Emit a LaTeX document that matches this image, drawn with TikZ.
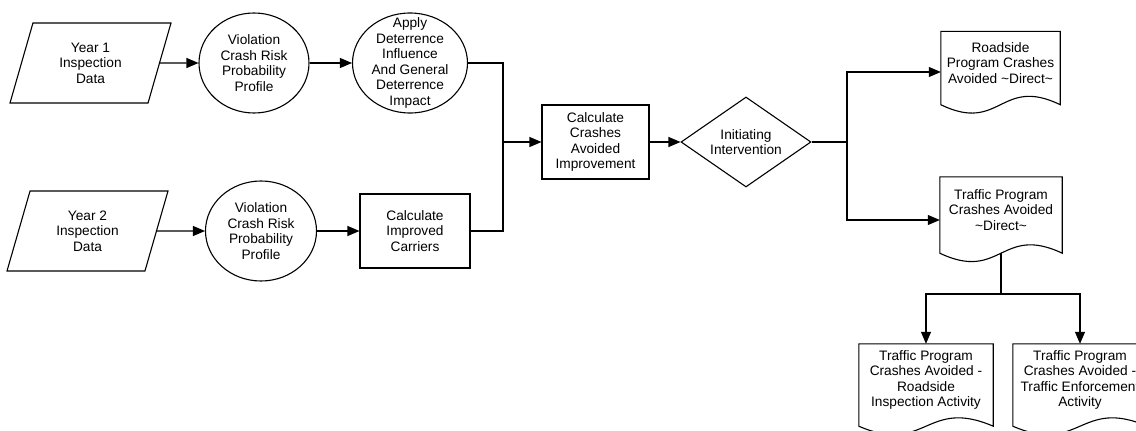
\documentclass[tikz,border=0pt]{standalone}
\usepackage{fontspec}
\setmainfont{Liberation Sans}
\usetikzlibrary{shapes.geometric,arrows.meta,calc}
\begin{document}
\begin{tikzpicture}[x=1pt,y=-1pt,
  every node/.style={font=\fontsize{13.7}{15.6}\selectfont},
  ln/.style={line width=1.1pt},
  arr/.style={ln,-{Triangle[length=12pt,width=10pt]}},
  txt/.style={align=center,inner sep=0pt},
  para/.style={ln,draw,trapezium,trapezium left angle=60.6,trapezium right angle=119.4,
    trapezium stretches body,minimum width=161pt,minimum height=80pt,txt},
  oval/.style n args={2}{ln,draw,ellipse,inner sep=0pt,minimum width=#1,minimum height=#2},
  stepbox/.style n args={2}{ln,draw,rectangle,txt,minimum width=#1,minimum height=#2},
  decision/.style={ln,draw,diamond,txt,aspect=1.44,minimum width=130pt,minimum height=90pt},
  docbox/.style n args={2}{inner sep=0pt,minimum width=#1,minimum height=#2}
]
\useasboundingbox (0,0) rectangle (1136,431);
\clip (0,0) rectangle (1136,431);

% document symbol: straight top and sides, wavy bottom edge
\newcommand\docoutline[1]{%
  \draw[ln] (#1.north west) -- (#1.north east) -- (#1.south east)
    .. controls ($(#1.south)+(0,-29)$) and ($(#1.south)+(0,29)$) .. (#1.south west) -- cycle;}

% upper row
\node[para] (y1) at (90.5,63) {Year 1\\Inspection\\Data};
\node[oval={110pt}{100pt},label={[txt]center:Violation\\Crash Risk\\Probability\\Profile}] (v1) at (254,63) {};
\node[oval={115pt}{100pt},label={[txt]center:Apply\\Deterrence\\Influence\\And General\\Deterrence\\Impact}] (apply) at (410,63) {};

% lower row
\node[para] (y2) at (87.5,231) {Year 2\\Inspection\\Data};
\node[oval={111pt}{100pt},label={[txt]center:Violation\\Crash Risk\\Probability\\Profile}] (v2) at (261,231) {};
\node[stepbox={110pt}{74pt}] (cic) at (415,231) {Calculate\\Improved\\Carriers};

% merge and decision
\node[stepbox={107pt}{74pt}] (cca) at (595.5,142) {Calculate\\Crashes\\Avoided\\Improvement};
\node[decision] (dia) at (746,142) {Initiating\\Intervention};

% output documents
\node[docbox={119pt}{73pt},label={[txt,yshift=5pt]center:Roadside\\Program Crashes\\Avoided \textasciitilde Direct\textasciitilde}] (road) at (1000.5,68) {};
\node[docbox={122pt}{76pt},label={[txt,yshift=5pt]center:Traffic Program\\Crashes Avoided\\\textasciitilde Direct\textasciitilde}] (traffic) at (1001,215) {};
\node[docbox={134pt}{82pt},label={[txt,yshift=5pt]center:Traffic Program\\Crashes Avoided -\\Roadside\\Inspection Activity}] (docA) at (926,385) {};
\node[docbox={134pt}{82pt},label={[txt,yshift=5pt]center:Traffic Program\\Crashes Avoided -\\Traffic Enforcement\\Activity}] (docB) at (1080,385) {};
\docoutline{road}
\docoutline{traffic}
\docoutline{docA}
\docoutline{docB}

% connectors
\coordinate (j) at (503,142);
\coordinate (split) at (847,142);
\coordinate (tj) at (1001,294);

\draw[arr] (y1.east) -- (v1.west);
\draw[arr] (v1.east) -- (apply.west);
\draw[arr] (y2.east) -- (v2.west);
\draw[arr] (v2.east) -- (cic.west);
\draw[ln] (apply.east) -| (j);
\draw[ln] (cic.east) -| (j);
\draw[arr] (j) -- (cca.west);
\draw[arr] (cca.east) -- (dia.west);
\draw[ln] (dia.east) -- (split);
\draw[arr] (split) |- ([yshift=-4pt]road.west);
\draw[arr] (split) |- ([yshift=-5pt]traffic.west);
\draw[ln] (traffic.south) -- (tj);
\draw[arr] (tj) -| (docA.north);
\draw[arr] (tj) -| (docB.north);
\end{tikzpicture}
\end{document}
